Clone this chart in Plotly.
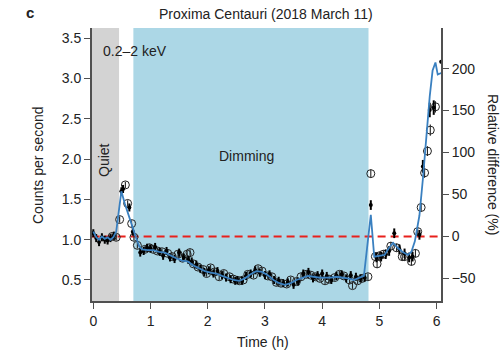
import plotly.graph_objects as go

# ---- data ----
curve_t = [0.00, 0.05, 0.10, 0.15, 0.20, 0.25, 0.30, 0.35, 0.40, 0.45, 0.49, 0.55, 0.62, 0.67,
           0.72, 0.76, 0.80, 0.85, 0.95, 1.05, 1.15, 1.25, 1.35, 1.45, 1.55, 1.65, 1.75, 1.85,
           1.95, 2.05, 2.15, 2.25, 2.35, 2.45, 2.55, 2.65, 2.75, 2.85, 2.95, 3.05, 3.15, 3.25,
           3.35, 3.45, 3.55, 3.65, 3.75, 3.85, 3.95, 4.05, 4.15, 4.25, 4.35, 4.45, 4.55, 4.65,
           4.73, 4.85, 4.91, 5.00, 5.09, 5.17, 5.24, 5.32, 5.40, 5.50, 5.56, 5.62, 5.70, 5.76,
           5.82, 5.88, 5.93, 5.98, 6.02, 6.08]
curve_c = [1.10, 1.03, 1.00, 1.04, 1.01, 1.03, 1.00, 1.03, 1.10, 1.35, 1.60, 1.45, 1.28, 1.19,
           1.08, 1.00, 0.92, 0.88, 0.87, 0.87, 0.85, 0.84, 0.80, 0.77, 0.74, 0.73, 0.68, 0.64,
           0.61, 0.59, 0.58, 0.55, 0.52, 0.50, 0.49, 0.52, 0.57, 0.61, 0.60, 0.56, 0.50, 0.46,
           0.44, 0.46, 0.50, 0.53, 0.55, 0.54, 0.53, 0.53, 0.53, 0.54, 0.53, 0.52, 0.50, 0.53,
           0.55, 1.31, 0.79, 0.80, 0.81, 0.90, 0.96, 0.90, 0.85, 0.81, 0.85, 0.98, 1.30, 1.75,
           2.30, 2.78, 3.10, 3.20, 3.05, 3.07]

open_t = [0.33, 0.40, 0.46, 0.56, 0.60, 0.67, 0.71, 0.77, 0.90, 0.98, 1.05, 1.12, 1.20, 1.30,
          1.38, 1.48, 1.56, 1.64, 1.69, 1.75, 1.83, 1.92, 1.98, 2.05, 2.12, 2.20, 2.28, 2.38,
          2.45, 2.55, 2.62, 2.70, 2.80, 2.88, 2.95, 3.05, 3.12, 3.20, 3.28, 3.38, 3.45, 3.55,
          3.63, 3.72, 3.80, 3.88, 3.96, 4.05, 4.12, 4.22, 4.30, 4.38, 4.48, 4.53, 4.62, 4.70,
          4.80, 4.85, 4.93, 4.96, 5.00, 5.07, 5.20, 5.30, 5.40, 5.44, 5.56, 5.63, 5.67, 5.73,
          5.79, 5.84, 5.89, 5.98]
open_c = [1.04, 1.03, 1.25, 1.68, 1.45, 1.20, 1.03, 0.93, 0.88, 0.90, 0.88, 0.86, 0.85, 0.83,
          0.79, 0.82, 0.77, 0.82, 0.84, 0.70, 0.66, 0.63, 0.58, 0.65, 0.60, 0.54, 0.58, 0.54,
          0.51, 0.49, 0.50, 0.57, 0.56, 0.64, 0.61, 0.55, 0.54, 0.47, 0.46, 0.45, 0.50, 0.48,
          0.54, 0.57, 0.56, 0.54, 0.52, 0.49, 0.51, 0.53, 0.57, 0.55, 0.50, 0.43, 0.49, 0.52,
          0.54, 1.82, 0.79, 0.70, 0.80, 0.82, 0.92, 0.90, 0.79, 0.79, 0.73, 0.83, 1.10, 1.40,
          1.83, 2.10, 2.36, 2.65]
open_err = [0.04] * 57 + [0.05] * 13 + [0.06, 0.06, 0.07, 0.07]

fill_t = [0.00, 0.05, 0.10, 0.15, 0.20, 0.25, 0.30, 0.36, 0.49, 0.52, 0.63, 0.69, 0.82, 0.88,
          0.94, 1.00, 1.08, 1.16, 1.22, 1.28, 1.34, 1.42, 1.50, 1.58, 1.66, 1.72, 1.80, 1.87,
          1.94, 2.02, 2.10, 2.17, 2.25, 2.32, 2.40, 2.48, 2.52, 2.60, 2.67, 2.75, 2.83, 2.91,
          3.00, 3.08, 3.16, 3.24, 3.32, 3.40, 3.50, 3.58, 3.67, 3.76, 3.84, 3.92, 4.00, 4.08,
          4.16, 4.25, 4.34, 4.42, 4.50, 4.59, 4.67, 4.74, 4.85, 4.95, 5.03, 5.11, 5.17, 5.26,
          5.35, 5.44, 5.52, 5.58, 5.70, 5.76, 5.88, 5.95, 6.08]
fill_c = [1.08, 1.02, 0.97, 1.03, 1.00, 0.99, 1.02, 1.05, 1.60, 1.63, 1.40, 1.10, 0.84, 0.86,
          0.90, 0.89, 0.91, 0.85, 0.80, 0.86, 0.78, 0.76, 0.84, 0.78, 0.75, 0.73, 0.69, 0.64,
          0.60, 0.62, 0.58, 0.61, 0.56, 0.53, 0.51, 0.49, 0.50, 0.49, 0.55, 0.58, 0.62, 0.59,
          0.56, 0.57, 0.50, 0.49, 0.46, 0.47, 0.44, 0.48, 0.58, 0.60, 0.52, 0.56, 0.58, 0.55,
          0.50, 0.55, 0.57, 0.52, 0.56, 0.54, 0.52, 0.53, 1.43, 0.78, 0.79, 0.82, 0.86, 1.08,
          0.88, 0.83, 0.78, 0.79, 1.06, 1.91, 2.61, 2.64, 3.21]
fill_err = [0.05] * 64 + [0.06] * 11 + [0.08, 0.09, 0.09, 0.02]

quiet_span = [-0.03, 0.45]
dim_span = [0.70, 4.81]
reference_level = 1.04
x_ticks = [0, 1, 2, 3, 4, 5, 6]
y_ticks = [0.5, 1.0, 1.5, 2.0, 2.5, 3.0, 3.5]
y2_ticks = [-50, 0, 50, 100, 150, 200]

FONT = "Liberation Sans, Arial, sans-serif"
AX = "#505050"
TXT = "#222"

W, H = 503, 351
ML, MR, MT, MB = 92, 62, 28, 50
PW, PH = W - ML - MR, H - MT - MB


def px_ann(text, px, py, size=14, angle=0):
    """Annotation placed by pixel centre (from top-left of the page)."""
    return dict(text=text, x=(px - ML) / PW, y=(H - MB - py) / PH, xref="paper",
                yref="paper", xanchor="center", yanchor="middle", showarrow=False,
                textangle=angle, font=dict(size=size, family=FONT, color=TXT))


fig = go.Figure()

fig.add_shape(type="rect", xref="x", yref="paper", x0=quiet_span[0], x1=quiet_span[1],
              y0=0, y1=1, fillcolor="#d3d3d3", line_width=0, layer="below")
fig.add_shape(type="rect", xref="x", yref="paper", x0=dim_span[0], x1=dim_span[1],
              y0=0, y1=1, fillcolor="#acd7e6", line_width=0, layer="below")

fig.add_trace(go.Scatter(x=[-0.03, 6.08], y=[reference_level, reference_level], mode="lines",
                         line=dict(color="#e8201c", width=2, dash="8px,5px"),
                         hoverinfo="skip", showlegend=False))

fig.add_trace(go.Scatter(x=open_t, y=open_c, mode="markers",
                         marker=dict(symbol="circle-open", size=8, color="#222",
                                     line=dict(width=1, color="#222")),
                         error_y=dict(type="data", array=open_err, thickness=1.1, width=0,
                                      color="#222"),
                         showlegend=False))
fig.add_trace(go.Scatter(x=fill_t, y=fill_c, mode="markers",
                         marker=dict(symbol="circle", size=4, color="black"),
                         error_y=dict(type="data", array=fill_err, thickness=2, width=0,
                                      color="black"),
                         showlegend=False))
fig.add_trace(go.Scatter(x=curve_t, y=curve_c, mode="lines",
                         line=dict(color="#3a80c0", width=1.8),
                         showlegend=False))
# invisible trace to activate the right axis
fig.add_trace(go.Scatter(x=[1], y=[0], yaxis="y2", mode="markers",
                         marker=dict(opacity=0), hoverinfo="skip", showlegend=False))

axis_common = dict(showgrid=False, zeroline=False, showline=True, linecolor=AX, linewidth=1.8,
                   ticks="outside", ticklen=6, tickwidth=1.3, tickcolor=AX,
                   tickfont=dict(family=FONT, size=14, color=TXT))

fig.update_layout(
    width=W, height=H,
    margin=dict(l=ML, r=MR, t=MT, b=MB),
    paper_bgcolor="white", plot_bgcolor="white",
    font=dict(family=FONT, size=14, color=TXT),
    xaxis=dict(range=[-0.023, 6.077], tickvals=x_ticks, **axis_common),
    yaxis=dict(range=[0.239, 3.628], tickvals=y_ticks, tickformat=".1f", **axis_common),
    yaxis2=dict(range=[-77.1, 248.5], tickvals=y2_ticks, overlaying="y", side="right",
                **axis_common),
    showlegend=False,
    annotations=[
        px_ann("<b>c</b>", 30, 13, size=15),
        px_ann("Proxima Centauri (2018 March 11)", 266, 14),
        px_ann("0.2–2 keV", 135, 51),
        px_ann("Quiet", 104, 160, angle=-90),
        px_ann("Dimming", 246, 156),
        px_ann("Counts per second", 38, 165, angle=-90),
        px_ann("Relative difference (%)", 493, 164, angle=90),
        px_ann("Time (h)", 263, 342),
    ],
)

fig.write_html("out.html")
